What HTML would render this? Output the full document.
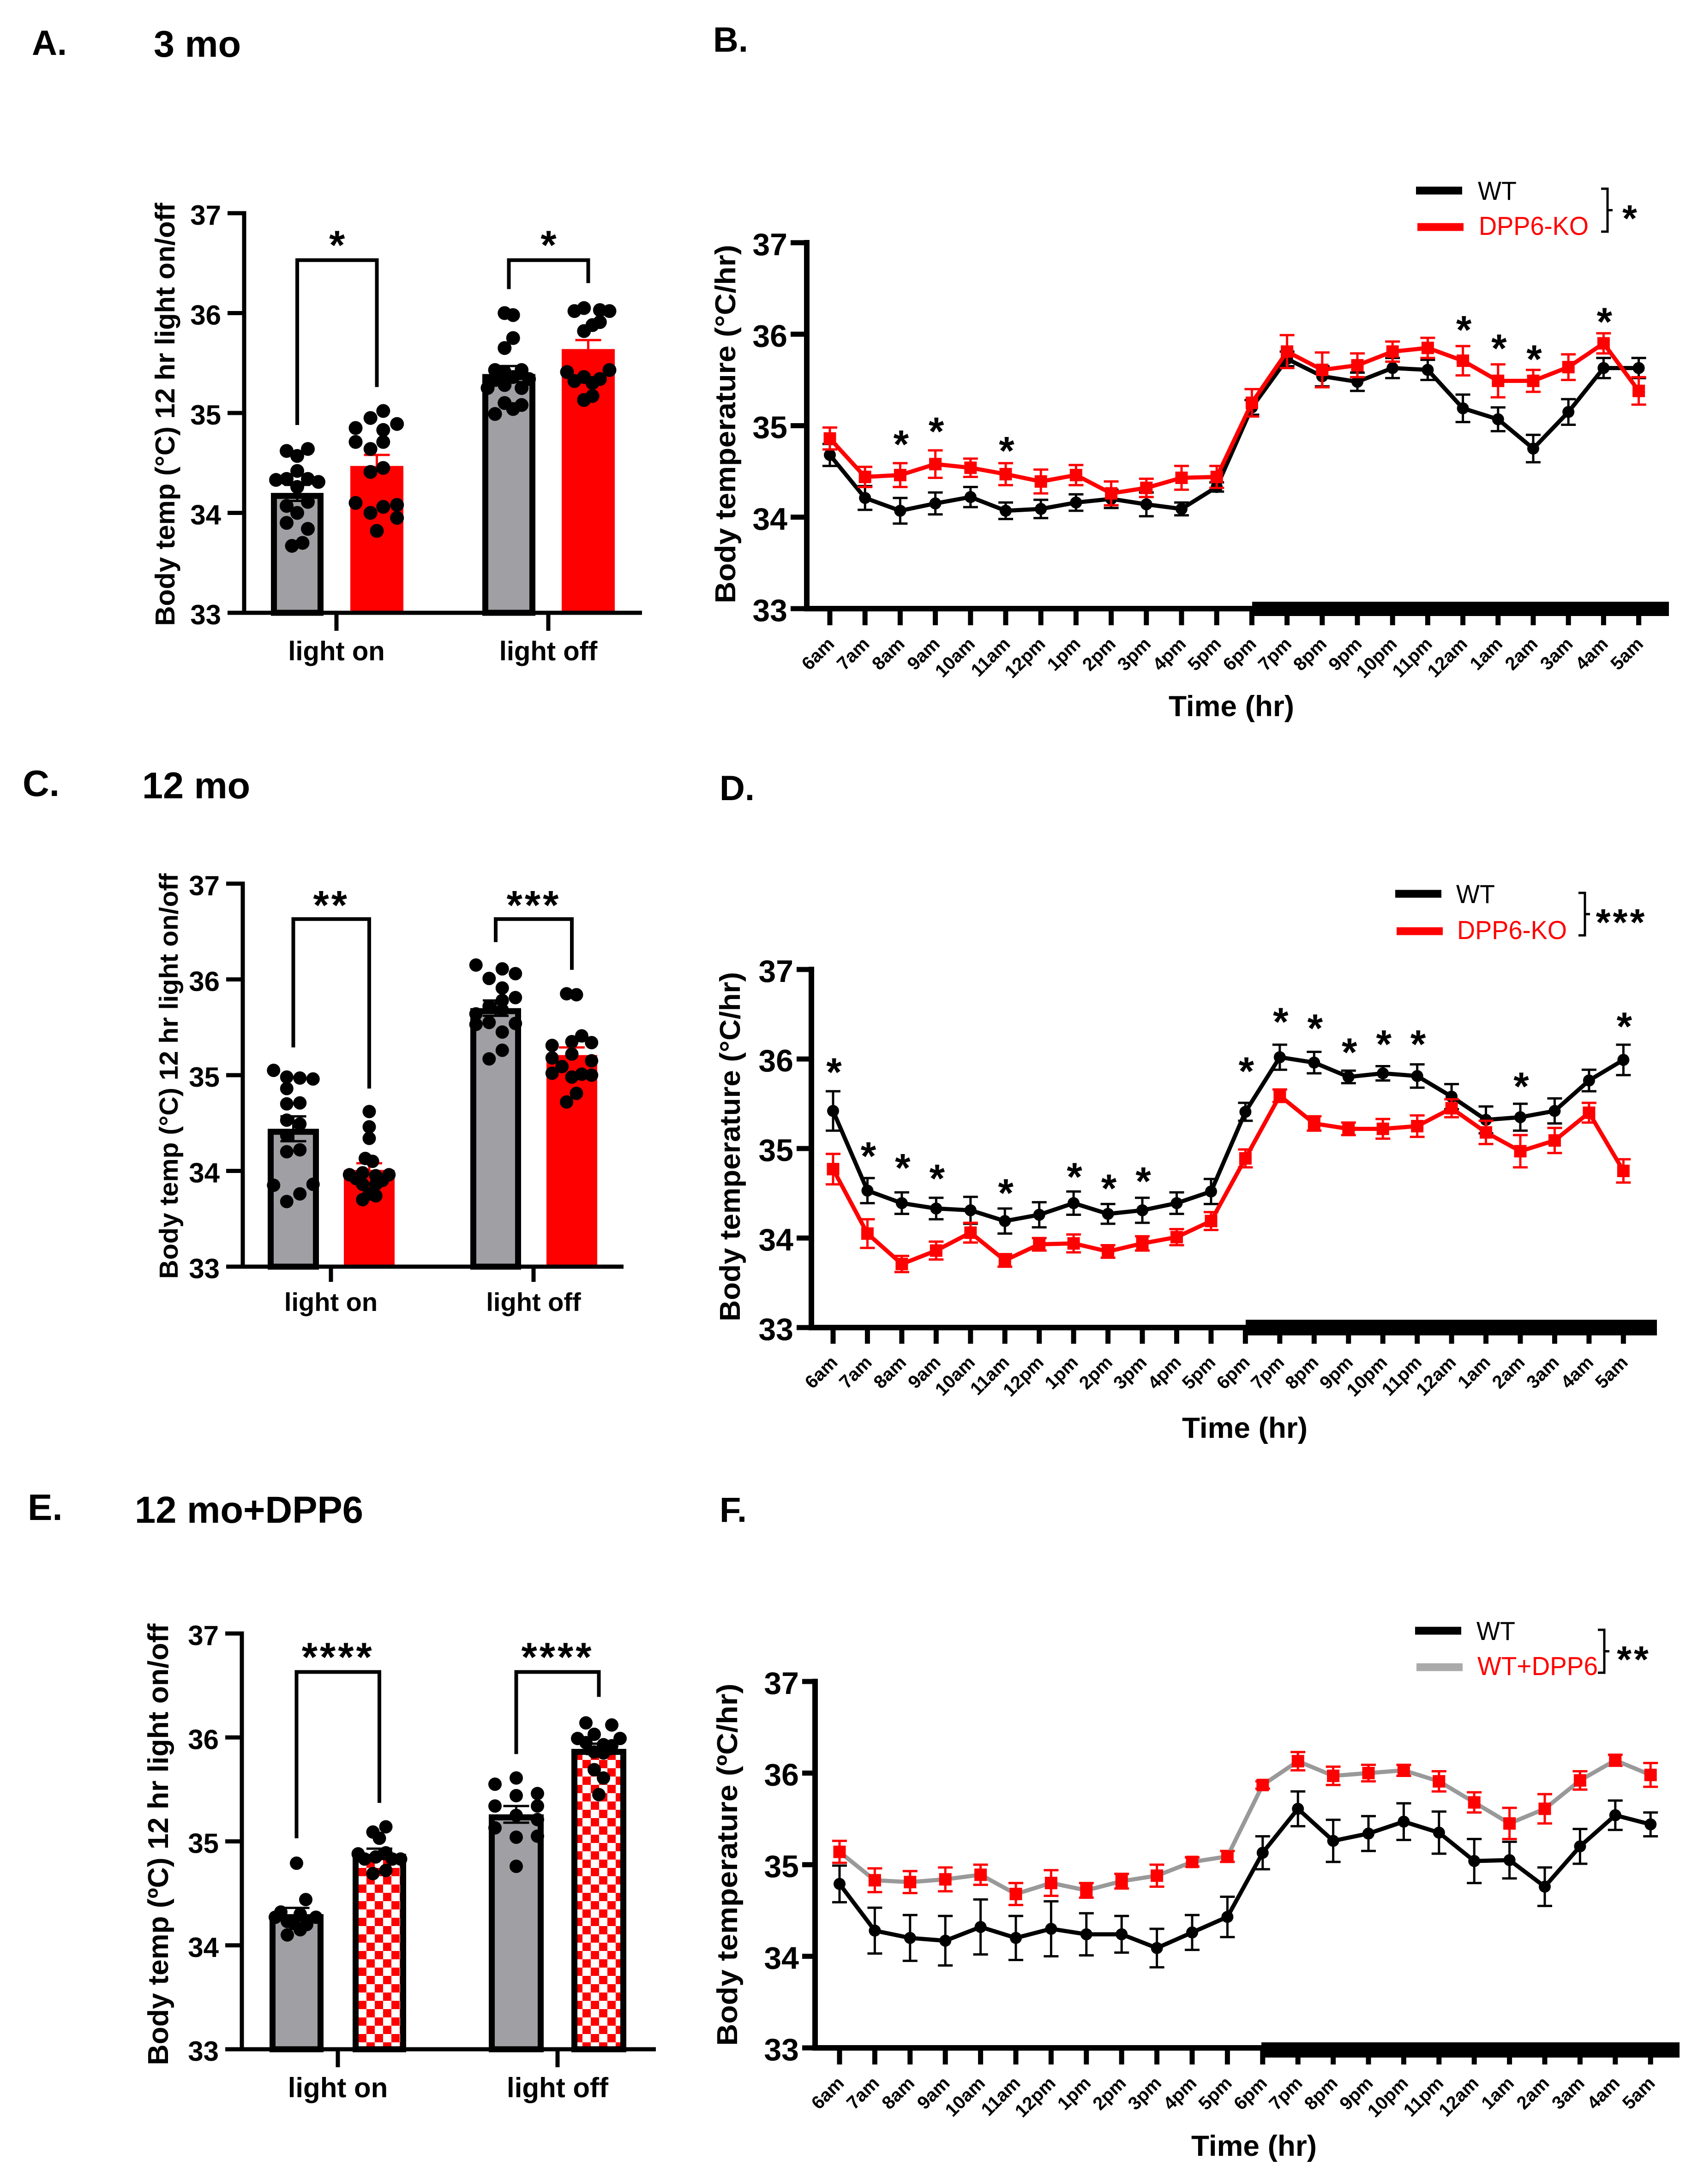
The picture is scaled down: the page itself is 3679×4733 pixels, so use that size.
<!DOCTYPE html>
<html lang="en">
<head>
<meta charset="utf-8">
<title>Body temperature panels</title>
<style>
html,body{margin:0;padding:0;background:#fff;width:3679px;height:4733px;overflow:hidden}
svg{display:block;font-family:"Liberation Sans",sans-serif}
.h{font-weight:700;fill:#000}
</style>
</head>
<body>
<svg id="fig" xmlns="http://www.w3.org/2000/svg" width="3679" height="4733" viewBox="0 0 3679 4733">
<defs>
<pattern id="checker" patternUnits="userSpaceOnUse" x="20" y="16" width="36" height="36">
<rect width="36" height="36" fill="#fff"/>
<rect width="18" height="18" fill="#f00"/>
<rect x="18" y="18" width="18" height="18" fill="#f00"/>
</pattern>
</defs>
<text class="h" x="69" y="119" font-size="76">A.</text>
<text class="h" x="333" y="123" font-size="81">3 mo</text>
<text class="h" x="1545" y="112" font-size="76">B.</text>
<text class="h" x="49" y="1725" font-size="80">C.</text>
<text class="h" x="308" y="1730" font-size="81">12 mo</text>
<text class="h" x="1559" y="1734" font-size="76">D.</text>
<text class="h" x="60" y="3294" font-size="80">E.</text>
<text class="h" x="292" y="3300" font-size="82" textLength="495" lengthAdjust="spacingAndGlyphs">12 mo+DPP6</text>
<text class="h" x="1559" y="3298" font-size="76">F.</text>
</svg>
<script>
const yTickValues = [33, 34, 35, 36, 37];
const groupLabels = ['light on', 'light off'];
const hourLabels = ['6am','7am','8am','9am','10am','11am','12pm','1pm','2pm','3pm','4pm','5pm','6pm','7pm','8pm','9pm','10pm','11pm','12am','1am','2am','3am','4am','5am'];

/* Panel A */
const aBarMeans = [34.20, 34.47, 35.39, 35.64];
const aBarErrors = [0.08, 0.11, 0.08, 0.09];
const aDotValues = [
 [34.62,34.64,34.57,34.42,34.33,34.34,34.34,34.31,34.26,34.07,34.11,34.0,33.9,33.84,33.70,33.67],
 [35.02,34.95,34.89,34.85,34.83,34.71,34.71,34.64,34.45,34.41,34.10,34.08,34.06,34.0,33.95,33.82],
 [36.0,35.98,35.75,35.65,35.43,35.43,35.41,35.36,35.34,35.25,35.33,35.28,35.25,35.10,35.08,35.04,34.99],
 [36.05,36.02,36.03,36.02,35.91,35.88,35.82,35.41,35.43,35.32,35.36,35.34,35.30,35.17,35.13]
];
const aDotJitter = [
 [-1,1,0,0,-2,-1,1,2,0,-1,1,0,-1,1,.5,-.5],
 [.6,-.6,1.9,-2,.6,-2,.6,-.6,.6,-.6,-2,1.9,.6,-.6,1.9,0],
 [-.4,.4,.4,-.4,-1.3,1.2,-.4,.4,1.9,-2,-1.3,-.4,1.2,-.4,1.2,.4,-1.3],
 [-.4,-1.3,1.1,2,1.1,.4,-.4,-2,2,-1.3,-.4,1.1,.4,.4,-.4]
];

/* Panel C */
const cBarMeans = [34.44, 34.01, 35.70, 35.21];
const cBarErrors = [0.13, 0.07, 0.08, 0.08];
const cDotValues = [
 [35.05,34.98,34.97,34.96,34.86,34.70,34.71,34.53,34.49,34.37,34.2,34.22,33.85,33.86,33.76,33.68],
 [34.62,34.46,34.34,34.13,34.10,33.98,33.96,33.96,33.95,33.92,33.90,33.86,33.86,33.74,33.76,33.70],
 [36.15,36.11,36.06,36.01,35.91,35.81,35.78,35.72,35.68,35.64,35.55,35.53,35.54,35.45,35.26,35.17],
 [35.85,35.84,35.41,35.35,35.34,35.31,35.22,35.18,35.15,35.09,35.02,35.01,35.0,34.98,34.81,34.72]
];
const cDotJitter = [
 [-1.5,-.5,.5,1.5,-.5,-.5,.5,-.5,.5,-.5,-.5,.5,-1.5,1.5,.5,-.5],
 [0,0,0,-.3,.25,-.5,-1.5,1.5,.5,-1,1,-.5,.5,.5,0,-.5],
 [-1.5,.5,1.5,-.5,.5,1.5,.5,-.5,.5,-1.5,-.5,-1.5,1.5,.5,.5,-.5],
 [-.4,.35,.75,0,1.5,-1.5,0,-1.5,1.5,-.75,-1.5,.75,1.5,0,.35,-.4]
];

/* Panel E */
const eBarMeans = [34.30, 34.88, 35.26, 35.89];
const eBarErrors = [0.06, 0.05, 0.08, 0.05];
const eDotValues = [
 [34.79,34.44,34.32,34.30,34.27,34.27,34.23,34.21,34.20,34.15,34.10],
 [35.14,35.09,35.03,34.88,34.89,34.83,34.83,34.85,34.83,34.72,34.69],
 [35.61,35.55,35.46,35.44,35.34,35.34,35.25,35.21,35.13,35.05,35.04,34.76],
 [36.14,36.12,36.03,35.99,35.99,35.93,35.92,35.95,35.86,35.85,35.69,35.61,35.45]
];
const eDotJitter = [
 [0,1,-1.7,.4,-2.3,2.1,-1,-.3,1.1,.4,-1],
 [.7,-.7,0,-2.3,.7,2.3,-1.6,-.4,1.4,.7,-.7],
 [0,-2.3,2.3,0,-2.3,2.3,0,2.3,-2.3,2.3,0,0],
 [-1.4,1.4,-.5,-2.3,2.3,.5,1.4,-1.4,-.5,.5,-.5,.5,0]
];

/* Panel B */
const bWtMeans = [34.68,34.21,34.07,34.15,34.22,34.07,34.09,34.16,34.20,34.14,34.09,34.33,35.20,35.73,35.54,35.48,35.63,35.61,35.19,35.07,34.75,35.15,35.63,35.63];
const bWtErrors = [.12,.13,.14,.12,.11,.09,.10,.09,.10,.13,.07,.05,.08,.08,.11,.10,.11,.11,.15,.13,.15,.14,.11,.11];
const bKoMeans = [34.86,34.44,34.46,34.58,34.54,34.47,34.39,34.46,34.26,34.32,34.43,34.44,35.25,35.81,35.61,35.66,35.81,35.85,35.71,35.49,35.49,35.64,35.90,35.38];
const bKoErrors = [.12,.11,.13,.15,.10,.12,.13,.11,.13,.10,.13,.12,.15,.18,.19,.13,.11,.11,.16,.18,.12,.14,.11,.15];
const bStarHours = ['8am','9am','11am','12am','1am','2am','4am'];
const bStarLevels = [34.89,35.03,34.82,36.14,35.94,35.82,36.23];

/* Panel D */
const dWtMeans = [35.42,34.53,34.39,34.33,34.31,34.19,34.26,34.39,34.27,34.31,34.39,34.52,35.41,36.02,35.96,35.80,35.84,35.81,35.58,35.32,35.35,35.42,35.76,35.99];
const dWtErrors = [.22,.14,.12,.12,.15,.14,.14,.13,.11,.14,.12,.14,.10,.14,.12,.07,.08,.13,.14,.15,.15,.14,.12,.17];
const dKoMeans = [34.77,34.05,33.71,33.86,34.06,33.75,33.93,33.94,33.85,33.94,34.01,34.19,34.89,35.59,35.28,35.22,35.22,35.25,35.45,35.18,34.97,35.09,35.40,34.75];
const dKoErrors = [.17,.16,.09,.10,.11,.07,.07,.10,.07,.08,.09,.10,.10,.07,.08,.07,.11,.12,.10,.13,.18,.14,.11,.13];
const dStarHours = ['6am','7am','8am','9am','11am','1pm','2pm','3pm','6pm','7pm','8pm','9pm','10pm','11pm','2am','5am'];
const dStarLevels = [35.95,35.01,34.88,34.76,34.60,34.78,34.65,34.73,35.96,36.51,36.44,36.17,36.26,36.26,35.79,36.46];

/* Panel F */
const fWtMeans = [34.79,34.28,34.20,34.17,34.32,34.20,34.30,34.24,34.24,34.09,34.26,34.43,35.13,35.61,35.26,35.34,35.47,35.35,35.04,35.05,34.76,35.20,35.54,35.44];
const fWtErrors = [.20,.25,.25,.27,.30,.24,.30,.23,.20,.21,.19,.22,.18,.19,.23,.19,.20,.23,.24,.20,.21,.19,.16,.13];
const fDppMeans = [35.14,34.83,34.81,34.84,34.89,34.68,34.80,34.72,34.82,34.88,35.03,35.09,35.87,36.13,35.97,36.0,36.03,35.91,35.68,35.45,35.61,35.92,36.14,35.98];
const fDppErrors = [.12,.13,.12,.13,.11,.12,.14,.08,.08,.12,.05,.06,.04,.10,.10,.09,.06,.11,.11,.17,.16,.10,.06,.13];

const SVGNS = 'http://www.w3.org/2000/svg';
const fig = document.getElementById('fig');
const GRAY = '#a0a0a4', RED = '#ff0000';

function node(tag, parent, props) {
  const el = document.createElementNS(SVGNS, tag);
  for (const k in props) el.setAttribute(k, props[k]);
  parent.appendChild(el);
  return el;
}
function line(parent, name, x1, y1, x2, y2, color, w) {
  const el = node('line', parent, {x1, y1, x2, y2, stroke: color, 'stroke-width': w});
  
  
  return el;
}
function label(parent, name, str, props) {
  const el = node('text', parent, props);
  el.textContent = str;
  
  
  return el;
}
function stars(parent, name, count, x, cy, size, weight) {
  return label(parent, name, '*'.repeat(count), {
    x, y: cy + size * 0.56, 'font-size': size, 'font-weight': weight, 'text-anchor': 'middle',
    'letter-spacing': count > 1 ? 5 : 0, fill: '#000'
  });
}
function yAxisScale(cfg) {
  return function (v) { return cfg.y33 - (v - 33) * (cfg.y33 - cfg.y37) / 4; };
}

function drawBarPanel(cfg) {
  const y = yAxisScale(cfg);
  const g = node('g', fig, {});
  
  

  cfg.means.forEach(function (mean, i) {
    const box = cfg.bars[i];
    const center = (box[0] + box[1]) / 2;
    const isWt = i % 2 === 0;
    const outlined = isWt || cfg.checker;
    const inset = outlined ? 6.5 : 0;
    const bar = node('rect', g, {
      x: box[0] + inset, y: y(mean) + inset, width: box[1] - box[0] - 2 * inset,
      height: Math.max(0, y(33) - y(mean) - inset),
      fill: isWt ? GRAY : (cfg.checker ? 'url(#checker)' : RED),
      stroke: outlined ? '#000' : 'none', 'stroke-width': outlined ? 13 : 0
    });
    
    

    const errColor = (isWt || cfg.checker) ? '#000' : RED;
    const hi = y(mean + cfg.errors[i]), lo = y(mean - cfg.errors[i]);
    line(g, cfg.id + '-error-stem-' + i, center, hi, center, lo, errColor, 5);
    line(g, cfg.id + '-error-cap-top-' + i, center - 28, hi, center + 28, hi, errColor, 5);
    line(g, cfg.id + '-error-cap-bottom-' + i, center - 28, lo, center + 28, lo, errColor, 5);

    cfg.dots[i].forEach(function (v, j) {
      const dot = node('circle', g, {cx: center + cfg.jitter[i][j] * cfg.slot, cy: y(v), r: cfg.dotR, fill: '#000'});
      
      
    });
  });

  line(g, cfg.id + '-y-axis', cfg.axisX, cfg.y37 - 4.5, cfg.axisX, cfg.y33 + 4.5, '#000', 9);
  line(g, cfg.id + '-x-axis', cfg.axisX - 4.5, cfg.y33, cfg.xEnd, cfg.y33, '#000', 9);
  yTickValues.forEach(function (t) {
    line(g, cfg.id + '-y-tick-' + t, cfg.tickLeft, y(t), cfg.axisX, y(t), '#000', 9);
    label(g, cfg.id + '-y-tick-label-' + t, String(t), {
      x: cfg.tickLeft - 14, y: y(t) + cfg.tickFont * 0.42, 'font-size': cfg.tickFont, 'font-weight': 700, 'text-anchor': 'end'
    });
  });
  groupLabels.forEach(function (name, i) {
    const cx = cfg.groupX[i];
    line(g, cfg.id + '-x-tick-' + i, cx, cfg.y33, cx, cfg.tickBottom, '#000', 9);
    label(g, cfg.id + '-x-label-' + i, name, {
      x: cx, y: cfg.labelY, 'font-size': cfg.labelFont, 'font-weight': 700, 'text-anchor': 'middle'
    });
  });

  cfg.brackets.forEach(function (b, i) {
    const a = (cfg.bars[i * 2][0] + cfg.bars[i * 2][1]) / 2;
    const c = (cfg.bars[i * 2 + 1][0] + cfg.bars[i * 2 + 1][1]) / 2;
    const path = node('path', g, {
      d: 'M' + a + ' ' + y(b.left) + 'V' + y(b.top) + 'H' + c + 'V' + y(b.right),
      fill: 'none', stroke: '#000', 'stroke-width': 8
    });
    
    
    stars(g, cfg.id + '-significance-stars-' + i, b.stars, (a + c) / 2, y(b.star), cfg.starFont, 700);
  });

  label(g, cfg.id + '-y-axis-title', cfg.yTitle, {
    transform: 'translate(' + cfg.titleX + ' ' + cfg.titleMid + ') rotate(-90)',
    'font-size': cfg.titleFont, 'font-weight': 700, 'text-anchor': 'middle',
    textLength: cfg.titleLen, lengthAdjust: 'spacingAndGlyphs'
  });
}

function drawSeries(g, cfg, prefix, means, errors, lineColor, markerColor, errColor, square) {
  const y = yAxisScale(cfg);
  const x = function (i) { return cfg.x0 + i * cfg.dx; };
  means.forEach(function (v, i) {
    const hi = y(v + errors[i]), lo = y(v - errors[i]);
    line(g, prefix + '-error-stem-' + i, x(i), hi, x(i), lo, errColor, 5);
    line(g, prefix + '-error-cap-top-' + i, x(i) - 16, hi, x(i) + 16, hi, errColor, 5);
    line(g, prefix + '-error-cap-bottom-' + i, x(i) - 16, lo, x(i) + 16, lo, errColor, 5);
  });
  const poly = node('polyline', g, {
    points: means.map(function (v, i) { return x(i) + ',' + y(v); }).join(' '),
    fill: 'none', stroke: lineColor, 'stroke-width': 9, 'stroke-linejoin': 'miter'
  });
  
  
  means.forEach(function (v, i) {
    let m;
    if (square) {
      m = node('rect', g, {x: x(i) - 13.5, y: y(v) - 13.5, width: 27, height: 27, fill: markerColor});
    } else {
      m = node('circle', g, {cx: x(i), cy: y(v), r: 13, fill: markerColor});
    }
    
    
  });
}

function drawLinePanel(cfg) {
  const y = yAxisScale(cfg);
  const x = function (i) { return cfg.x0 + i * cfg.dx; };
  const g = node('g', fig, {});
  
  

  cfg.series.forEach(function (s) {
    drawSeries(g, cfg, cfg.id + '-' + s.name, s.means, s.errors, s.line, s.marker, s.err, s.square);
  });

  line(g, cfg.id + '-y-axis', cfg.axisX, cfg.y37 - 6, cfg.axisX, cfg.y33 + 6, '#000', 12);
  line(g, cfg.id + '-x-axis', cfg.axisX - 6, cfg.y33, cfg.nightX, cfg.y33, '#000', 12);
  const night = node('rect', g, {x: cfg.nightX, y: cfg.nightY, width: cfg.nightW, height: cfg.nightH, fill: '#000'});
  
  

  yTickValues.forEach(function (t) {
    line(g, cfg.id + '-y-tick-' + t, cfg.tickLeft, y(t), cfg.axisX, y(t), '#000', 11);
    label(g, cfg.id + '-y-tick-label-' + t, String(t), {
      x: cfg.tickLeft - 7, y: y(t) + 27, 'font-size': 68, 'font-weight': 700, 'text-anchor': 'end'
    });
  });
  hourLabels.forEach(function (h, i) {
    line(g, cfg.id + '-x-tick-' + h, x(i), cfg.y33, x(i), cfg.tickBottom, '#000', 11);
    label(g, cfg.id + '-x-label-' + h, h, {
      transform: 'translate(' + (x(i) + 12) + ' ' + (cfg.tickBottom + 43) + ') rotate(-45)',
      'font-size': 40, 'font-weight': 700, 'text-anchor': 'end'
    });
  });
  cfg.starHours.forEach(function (h, i) {
    stars(g, cfg.id + '-significance-star-' + h, 1, x(hourLabels.indexOf(h)) + 2, y(cfg.starLevels[i]), 86, 700);
  });

  label(g, cfg.id + '-y-axis-title', cfg.yTitle, {
    transform: 'translate(' + cfg.titleX + ' ' + cfg.titleMid + ') rotate(-90)',
    'font-size': 62, 'font-weight': 700, 'text-anchor': 'middle',
    textLength: cfg.titleLen, lengthAdjust: 'spacingAndGlyphs'
  });
  label(g, cfg.id + '-x-axis-title', 'Time (hr)', {
    x: cfg.timeX, y: cfg.timeY, 'font-size': 63, 'font-weight': 700, 'text-anchor': 'middle',
    textLength: 272, lengthAdjust: 'spacingAndGlyphs'
  });

  const L = cfg.legend;
  line(g, cfg.id + '-legend-swatch-wt', L.x, L.y1, L.x + 100, L.y1, '#000', 17);
  line(g, cfg.id + '-legend-swatch-2', L.x + 3, L.y2, L.x + 103, L.y2, L.color2, 17);
  label(g, cfg.id + '-legend-label-wt', 'WT', {x: L.tx, y: L.y1 + 20, 'font-size': 57, fill: '#000', textLength: 84, lengthAdjust: 'spacingAndGlyphs'});
  label(g, cfg.id + '-legend-label-2', L.text2, {x: L.tx + 2, y: L.y2 + 17, 'font-size': 57, fill: RED, textLength: L.len2, lengthAdjust: 'spacingAndGlyphs'});
  const br = node('path', g, {
    d: 'M' + L.bx + ' ' + L.by1 + 'H' + (L.bx + 14) + 'V' + L.by2 + 'H' + L.bx + 'M' + (L.bx + 14) + ' ' + ((L.by1 + L.by2) / 2) + 'H' + (L.bx + 25),
    fill: 'none', stroke: '#000', 'stroke-width': 5
  });
  
  
  stars(g, cfg.id + '-legend-significance', L.stars, L.sx, (L.by1 + L.by2) / 2, 82, 700);
}

drawBarPanel({
  id: 'panel-a', means: aBarMeans, errors: aBarErrors, dots: aDotValues, jitter: aDotJitter, checker: false,
  axisX: 529, y37: 462, y33: 1328, xEnd: 1391, tickLeft: 493, tickBottom: 1367,
  bars: [[587,701],[759,874],[1045,1160],[1217,1332]], groupX: [729,1188], slot: 23, dotR: 15,
  tickFont: 60, labelFont: 58, labelY: 1431, starFont: 88,
  brackets: [{top:36.53,left:34.88,right:35.26,star:36.77,stars:1},{top:36.53,left:36.24,right:36.30,star:36.77,stars:1}],
  yTitle: 'Body temp (°C) 12 hr light on/off', titleX: 378, titleMid: 898, titleFont: 59, titleLen: 917
});
drawBarPanel({
  id: 'panel-c', means: cBarMeans, errors: cBarErrors, dots: cDotValues, jitter: cDotJitter, checker: false,
  axisX: 526, y37: 1915, y33: 2745, xEnd: 1351, tickLeft: 490, tickBottom: 2778,
  bars: [[580,691],[745,855],[1019,1129],[1184,1294]], groupX: [717,1156], slot: 28.5, dotR: 14.5,
  tickFont: 60, labelFont: 56, labelY: 2841, starFont: 88,
  brackets: [{top:36.63,left:35.29,right:34.86,star:36.87,stars:2},{top:36.63,left:36.39,right:36.10,star:36.87,stars:3}],
  yTitle: 'Body temp (°C) 12 hr light on/off', titleX: 385, titleMid: 2332, titleFont: 57, titleLen: 879
});
drawBarPanel({
  id: 'panel-e', means: eBarMeans, errors: eBarErrors, dots: eDotValues, jitter: eDotJitter, checker: true,
  axisX: 524, y37: 3540, y33: 4441, xEnd: 1421, tickLeft: 488, tickBottom: 4480,
  bars: [[584,701],[764,880],[1059,1178],[1238,1357]], groupX: [732,1208], slot: 20, dotR: 14.5,
  tickFont: 60, labelFont: 60, labelY: 4545, starFont: 88,
  brackets: [{top:36.63,left:35.03,right:35.37,star:36.86,stars:4},{top:36.63,left:35.84,right:36.39,star:36.86,stars:4}],
  yTitle: 'Body temp (ºC) 12 hr light on/off', titleX: 364, titleMid: 3997, titleFont: 62, titleLen: 957
});

drawLinePanel({
  id: 'panel-b', axisX: 1748, y37: 526, y33: 1319, x0: 1798, dx: 76.2, tickLeft: 1713, tickBottom: 1355,
  nightX: 2713, nightY: 1304, nightW: 903, nightH: 31,
  series: [
    {name:'wt', means:bWtMeans, errors:bWtErrors, line:'#000', marker:'#000', err:'#000', square:false},
    {name:'dpp6-ko', means:bKoMeans, errors:bKoErrors, line:RED, marker:RED, err:RED, square:true}
  ],
  starHours: bStarHours, starLevels: bStarLevels,
  yTitle: 'Body temperature (°C/hr)', titleX: 1593, titleMid: 919, titleLen: 777, timeX: 2668, timeY: 1552,
  legend: {x:3068, y1:413, y2:492, tx:3202, text2:'DPP6-KO', len2:238, color2:RED, bx:3469, by1:409, by2:502, stars:1, sx:3531}
});
drawLinePanel({
  id: 'panel-d', axisX: 1758, y37: 2101, y33: 2877, x0: 1805, dx: 74.45, tickLeft: 1726, tickBottom: 2912,
  nightX: 2699, nightY: 2860, nightW: 891, nightH: 34,
  series: [
    {name:'wt', means:dWtMeans, errors:dWtErrors, line:'#000', marker:'#000', err:'#000', square:false},
    {name:'dpp6-ko', means:dKoMeans, errors:dKoErrors, line:RED, marker:RED, err:RED, square:true}
  ],
  starHours: dStarHours, starLevels: dStarLevels,
  yTitle: 'Body temperature (°C/hr)', titleX: 1603, titleMid: 2485, titleLen: 757, timeX: 2697, timeY: 3116,
  legend: {x:3023, y1:1937, y2:2018, tx:3155, text2:'DPP6-KO', len2:238, color2:RED, bx:3420, by1:1935, by2:2027, stars:3, sx:3513}
});
drawLinePanel({
  id: 'panel-f', axisX: 1766, y37: 3644, y33: 4438, x0: 1819, dx: 76.4, tickLeft: 1738, tickBottom: 4474,
  nightX: 2733, nightY: 4426, nightW: 906, nightH: 33,
  series: [
    {name:'wt', means:fWtMeans, errors:fWtErrors, line:'#000', marker:'#000', err:'#000', square:false},
    {name:'wt-dpp6', means:fDppMeans, errors:fDppErrors, line:'#999', marker:RED, err:RED, square:true}
  ],
  starHours: [], starLevels: [],
  yTitle: 'Body temperature (ºC/hr)', titleX: 1597, titleMid: 4041, titleLen: 785, timeX: 2717, timeY: 4672,
  legend: {x:3066, y1:3534, y2:3613, tx:3199, text2:'WT+DPP6', len2:261, color2:'#aaa', bx:3462, by1:3532, by2:3625, stars:2, sx:3540}
});
</script>
</body>
</html>
